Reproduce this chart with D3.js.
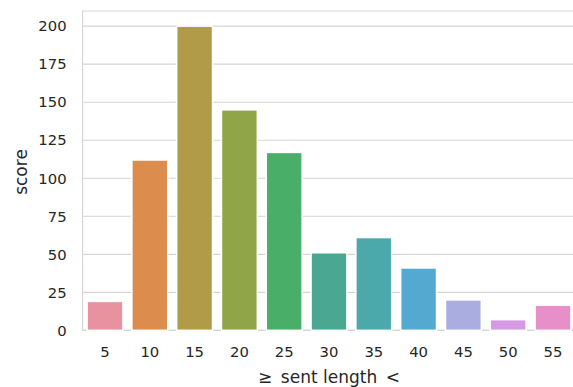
<!DOCTYPE html>
<html>
<head>
<meta charset="utf-8">
<script src="https://cdn.jsdelivr.net/npm/d3@7"></script>
<style>
  html, body { margin: 0; padding: 0; background: #fff; }
  svg { display: block; font-family: "DejaVu Sans", sans-serif; }
</style>
</head>
<body>
<svg id="chart" width="573" height="387"></svg>
<script>
const categories = ["5", "10", "15", "20", "25", "30", "35", "40", "45", "50", "55"];
const scores = [19, 112, 200, 145, 117, 51, 61, 41, 20, 7, 16.5];
const barColors = ["#e8919f", "#dc8d4d", "#b19b49", "#8fa548", "#49af68", "#4aa892",
                   "#4ba8ab", "#54a9d0", "#a9addf", "#d699e6", "#e68fc8"];
const yTicks = [0, 25, 50, 75, 100, 125, 150, 175, 200];
const xLabel = "\u2265\u2002sent length\u2002<";
const yLabel = "score";

const svg = d3.select("#chart");
const pLeft = 82.6, pRight = 575.4, pTop = 11, pBottom = 330.3;

const x = d3.scaleBand().domain(categories).range([pLeft, pRight])
  .paddingInner(0.2).paddingOuter(0.1);
const y = d3.scaleLinear().domain([0, 210]).range([pBottom, pTop]);

// grid
svg.append("g").selectAll("line").data(yTicks).join("line")
  .attr("x1", pLeft).attr("x2", pRight)
  .attr("y1", d => y(d)).attr("y2", d => y(d))
  .attr("stroke", "#d5d5d5").attr("stroke-width", 1.2);

// spines
svg.append("line").attr("x1", pLeft).attr("x2", pLeft).attr("y1", pTop).attr("y2", pBottom)
  .attr("stroke", "#d5d5d5").attr("stroke-width", 1.2);
svg.append("line").attr("x1", pLeft).attr("x2", pRight).attr("y1", pTop).attr("y2", pTop)
  .attr("stroke", "#d5d5d5").attr("stroke-width", 1.2);
svg.append("line").attr("x1", pLeft).attr("x2", pRight).attr("y1", pBottom).attr("y2", pBottom)
  .attr("stroke", "#d5d5d5").attr("stroke-width", 1.2);

// bars
svg.append("g").selectAll("rect").data(categories).join("rect")
  .attr("x", d => x(d))
  .attr("width", x.bandwidth())
  .attr("y", (d, i) => y(scores[i]))
  .attr("height", (d, i) => y(0) - y(scores[i]))
  .attr("fill", (d, i) => barColors[i])
  .attr("stroke", "#ffffff").attr("stroke-width", 1.5);

// y axis
const yAxis = svg.append("g").attr("transform", `translate(${pLeft},0)`)
  .call(d3.axisLeft(y).tickValues(yTicks).tickSize(0).tickPadding(16));
yAxis.select(".domain").remove();
yAxis.selectAll("text").attr("font-size", 14.8).attr("fill", "#262626")
  .attr("font-family", "DejaVu Sans");

// x axis
const xAxis = svg.append("g").attr("transform", `translate(0,${pBottom})`)
  .call(d3.axisBottom(x).tickSize(0).tickPadding(16));
xAxis.select(".domain").remove();
xAxis.selectAll("text").attr("font-size", 14.8).attr("fill", "#262626")
  .attr("font-family", "DejaVu Sans");

// labels
svg.append("text").attr("x", (pLeft + pRight) / 2).attr("y", 383)
  .attr("text-anchor", "middle").attr("font-size", 17).attr("fill", "#262626")
  .text(xLabel);
svg.append("text").attr("transform", `translate(26.5,172) rotate(-90)`)
  .attr("text-anchor", "middle").attr("font-size", 17).attr("fill", "#262626")
  .text(yLabel);
</script>
</body>
</html>
